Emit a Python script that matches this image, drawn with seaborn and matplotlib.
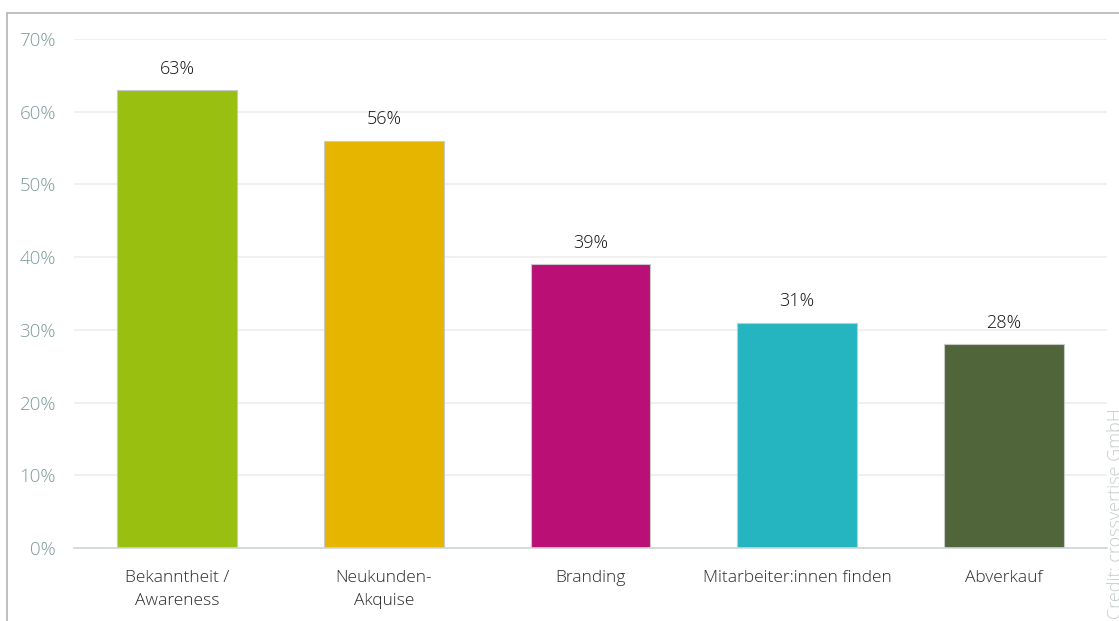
import pandas as pd
import matplotlib.pyplot as plt
import seaborn as sns
from matplotlib.lines import Line2D

# Data
categories = ["Bekanntheit /\nAwareness", "Neukunden-\nAkquise", "Branding",
              "Mitarbeiter:innen finden", "Abverkauf"]
values = [63, 56, 39, 31, 28]
colors = ["#99BF10", "#E5B500", "#BA0F74", "#24B5C0", "#50663A"]
yticks = [0, 10, 20, 30, 40, 50, 60, 70]

df = pd.DataFrame({"Kategorie": categories, "Wert": values})

sns.set_style("white")
plt.rcParams['font.family'] = ['Open Sans', 'DejaVu Sans']

fig = plt.figure(figsize=(11.19, 6.21), dpi=100)
ax = fig.add_axes([74 / 1119, 73 / 621, (1107 - 74) / 1119, (548 - 39) / 621])

sns.barplot(data=df, x="Kategorie", y="Wert", hue="Kategorie", palette=colors,
            legend=False, width=0.58, edgecolor="#c8c8c8", linewidth=0.8,
            saturation=1, ax=ax, zorder=3)

# value labels
for i, v in enumerate(values):
    ax.text(i, v + 1.7, f"{v}%", ha="center", va="bottom", fontsize=13,
            fontweight="light", color="#111111")

ax.set_xlim(-0.5, 4.5)
ax.set_ylim(0, 70)
ax.set_yticks(yticks)
ax.set_yticklabels([f"{t}%" for t in yticks], color="#7F9A9A", fontsize=13.5,
                   fontweight="light")
ax.set_xticks(range(len(categories)))
ax.set_xticklabels(categories, linespacing=1.6, fontweight="light")
ax.tick_params(axis="x", colors="#2a2a2a", labelsize=12.5, length=0, pad=16)
ax.tick_params(axis="y", length=0, pad=13)
ax.set_xlabel("")
ax.set_ylabel("")
ax.yaxis.grid(True, color="#eeeeee", linewidth=1.2, zorder=0)
for s in ["top", "right", "left"]:
    ax.spines[s].set_visible(False)
ax.spines["bottom"].set_color("#ccd6d6")
ax.spines["bottom"].set_linewidth(1.2)
ax.spines["bottom"].set_zorder(4)

# outer frame (left and top edges only visible)
fx, fy = 6.5 / 1119, 1 - 12.5 / 621
fig.add_artist(Line2D([fx, fx], [0, fy], transform=fig.transFigure,
                      color="#b4b4b4", linewidth=1.2))
fig.add_artist(Line2D([fx, 1], [fy, fy], transform=fig.transFigure,
                      color="#b4b4b4", linewidth=1.2))

# credit
fig.text(1116 / 1119, 0.004, "Credit: crossvertise GmbH", rotation=90,
         ha="center", va="bottom", fontsize=13, fontweight="light",
         color="#c4cccc")

plt.savefig("out.png", dpi=100)
plt.close()
